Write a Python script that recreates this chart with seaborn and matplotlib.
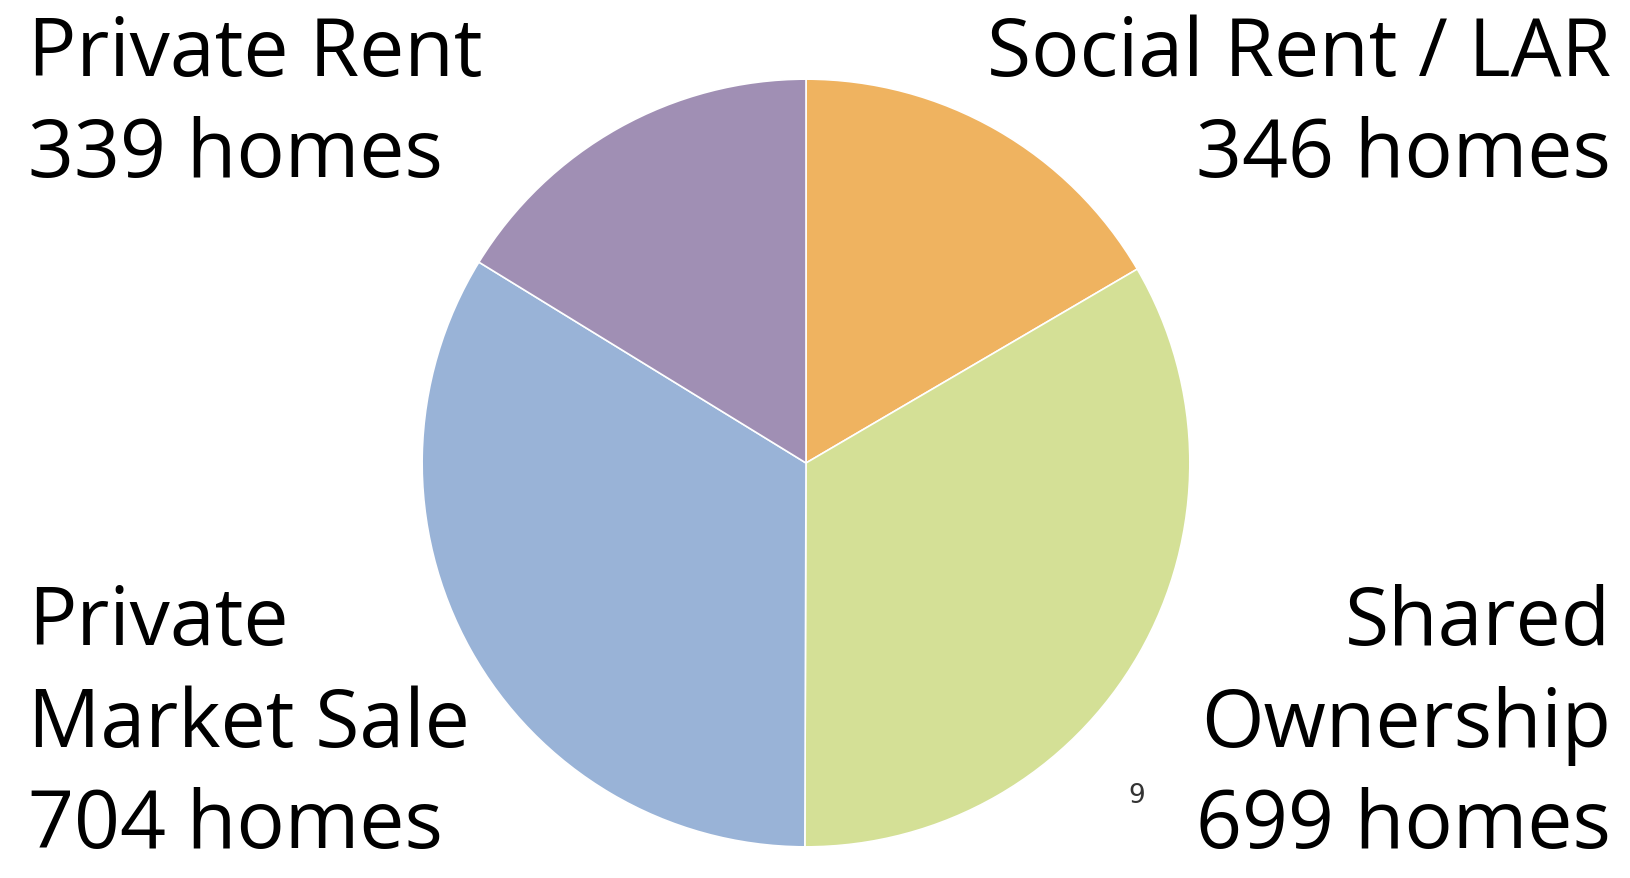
import matplotlib
matplotlib.use("Agg")
import matplotlib.pyplot as plt
import seaborn as sns

categories = ["Social Rent / LAR", "Shared Ownership", "Private Market Sale", "Private Rent"]
homes = [346, 699, 704, 339]
colors = ["#EFB360", "#D4E096", "#99B3D7", "#A08FB4"]

sns.set_theme(style="white")
plt.rcParams['font.family'] = ['Open Sans', 'DejaVu Sans']

W, H = 1631, 879
fig = plt.figure(figsize=(W / 100, H / 100), dpi=100)
fig.patch.set_facecolor("white")

cx, cy, r = 806, 464, 385
ax = fig.add_axes([(cx - r) / W, (H - cy - r) / H, 2 * r / W, 2 * r / H])
pal = sns.color_palette(colors)
ax.pie(homes, colors=pal, startangle=90, counterclock=False, radius=1,
       wedgeprops=dict(edgecolor="white", linewidth=1.2))
ax.set_xlim(-1.003, 1.003)
ax.set_ylim(-1.003, 1.003)
ax.set_aspect("equal")
ax.axis("off")

fs = 58

def put(lines, x, baselines, ha):
    for line, b in zip(lines, baselines):
        fig.text(x / W, 1 - b / H, line, ha=ha, va="baseline", fontsize=fs, color="black")

put([categories[3], f"{homes[3]} homes"], 28, [76, 177], "left")
put([categories[0], f"{homes[0]} homes"], 1611, [76, 177], "right")
put(["Private", "Market Sale", f"{homes[2]} homes"], 28, [645, 747, 848], "left")
put(["Shared", "Ownership", f"{homes[1]} homes"], 1611, [645, 747, 848], "right")

fig.text(1137 / W, 1 - 796 / H, "9", ha="center", va="center", fontsize=19,
         color="#333333", family=["DejaVu Sans"])

fig.savefig("out.png", dpi=100, facecolor="white")
